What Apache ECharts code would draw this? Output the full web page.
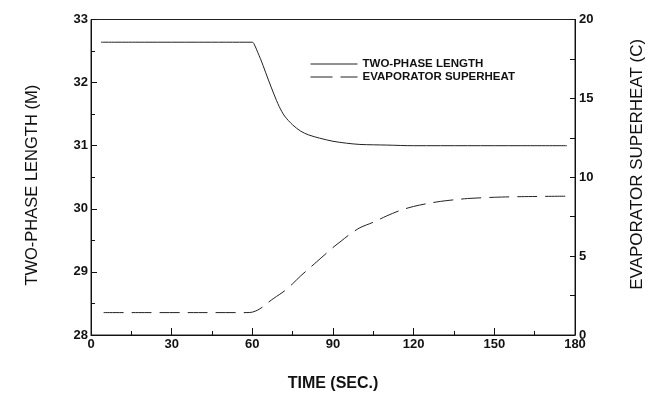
<!DOCTYPE html>
<html>
<head>
<meta charset="utf-8">
<script src="https://cdn.jsdelivr.net/npm/echarts@6/dist/echarts.min.js"></script>
<style>
  html, body { margin: 0; padding: 0; background: #fff; }
  #chart { width: 663px; height: 406px; }
</style>
</head>
<body>
<div id="chart"></div>
<script>
// time (s) and values
const lengthTime = [3.7, 20, 40, 60, 61, 62, 63, 64, 66, 68, 70, 72, 75, 78, 81, 85, 90, 95, 100, 110, 120, 140, 160, 177];
const lengthVals = [32.64, 32.64, 32.64, 32.64, 32.58, 32.48, 32.38, 32.27, 32.04, 31.82, 31.62, 31.47, 31.33, 31.23, 31.17, 31.12, 31.07, 31.04, 31.02, 31.01, 31.0, 31.0, 31.0, 31.0];

const superTime = [4.7, 20, 40, 58, 60, 62, 64, 66, 68, 70, 72, 75, 78, 81, 84, 87, 90, 93, 96, 100, 105, 110, 115, 120, 125, 130, 135, 140, 150, 160, 177];
const superVals = [1.42, 1.42, 1.42, 1.42, 1.45, 1.58, 1.8, 2.08, 2.33, 2.56, 2.8, 3.25, 3.75, 4.2, 4.65, 5.1, 5.55, 5.95, 6.35, 6.8, 7.15, 7.55, 7.9, 8.15, 8.33, 8.47, 8.57, 8.65, 8.73, 8.77, 8.8];

const xTicks = [0, 180, 30];
const leftTicks = [28, 33, 1];
const rightTicks = [0, 20, 5];

const chart = echarts.init(document.getElementById('chart'));

const labelFont = { fontFamily: 'Liberation Sans, Arial, sans-serif', fontWeight: 'bold', fontSize: 13, color: '#111' };
const titleFont = { fontFamily: 'Liberation Sans, Arial, sans-serif', fontSize: 16, color: '#111' };
const axisLine = { show: true, onZero: false, lineStyle: { color: '#111', width: 1 } };

const option = {
  animation: false,
  backgroundColor: '#fff',
  grid: {
    left: 91, right: 88, top: 19.5, bottom: 71,
    show: true, borderColor: '#222', borderWidth: 1
  },
  legend: {
    left: 305, top: 53,
    orient: 'vertical',
    itemWidth: 47, itemHeight: 10, itemGap: 1,
    itemStyle: { opacity: 0 },
    textStyle: { fontFamily: 'Liberation Sans, Arial, sans-serif', fontWeight: 'bold', fontSize: 11.5, color: '#111' },
    data: [
      { name: 'TWO-PHASE LENGTH', itemStyle: { opacity: 0 }, lineStyle: { color: '#222', width: 1, type: 'solid' } },
      { name: 'EVAPORATOR SUPERHEAT', itemStyle: { opacity: 0 }, lineStyle: { color: '#222', width: 1, type: [22, 8] } }
    ]
  },
  xAxis: {
    type: 'value',
    min: xTicks[0], max: xTicks[1], interval: xTicks[2],
    name: 'TIME (SEC.)',
    nameLocation: 'middle', nameGap: 41,
    nameTextStyle: Object.assign({}, titleFont, { fontWeight: 'bold' }),
    axisLine: axisLine,
    axisTick: { inside: true, length: 7, lineStyle: { color: '#111' } },
    minorTick: { show: true, splitNumber: 2, length: 4, lineStyle: { color: '#111' } },
    axisLabel: Object.assign({ margin: 3 }, labelFont),
    splitLine: { show: false }
  },
  yAxis: [
    {
      type: 'value',
      min: leftTicks[0], max: leftTicks[1], interval: leftTicks[2],
      name: 'TWO-PHASE LENGTH (M)',
      nameLocation: 'middle', nameGap: 50,
      nameTextStyle: Object.assign({ padding: [0, 0, 0, -16] }, titleFont, { fontSize: 16.5 }),
      axisLine: axisLine,
      axisTick: { inside: true, length: 6, lineStyle: { color: '#111' } },
      minorTick: { show: true, splitNumber: 2, length: 4, lineStyle: { color: '#111' } },
      axisLabel: Object.assign({ margin: 3 }, labelFont),
      splitLine: { show: false }
    },
    {
      type: 'value',
      min: rightTicks[0], max: rightTicks[1], interval: rightTicks[2],
      name: 'EVAPORATOR SUPERHEAT (C)',
      nameLocation: 'middle', nameGap: 54,
      nameTextStyle: Object.assign({ padding: [0, 0, 0, 26] }, titleFont, { fontSize: 17 }),
      axisLine: axisLine,
      axisTick: { inside: true, length: 5, lineStyle: { color: '#111' } },
      minorTick: { show: true, splitNumber: 2, length: 5, lineStyle: { color: '#111' } },
      axisLabel: Object.assign({ margin: 4 }, labelFont),
      splitLine: { show: false }
    }
  ],
  series: [
    {
      name: 'TWO-PHASE LENGTH',
      type: 'line',
      yAxisIndex: 0,
      symbol: 'none',
      smooth: 0.3,
      color: '#222',
      lineStyle: { color: '#222', width: 1 },
      data: lengthTime.map((t, i) => [t, lengthVals[i]])
    },
    {
      name: 'EVAPORATOR SUPERHEAT',
      type: 'line',
      yAxisIndex: 1,
      symbol: 'none',
      smooth: 0.3,
      color: '#222',
      lineStyle: { color: '#222', width: 1, type: [20, 8] },
      data: superTime.map((t, i) => [t, superVals[i]])
    }
  ]
};

chart.setOption(option);
</script>
</body>
</html>
